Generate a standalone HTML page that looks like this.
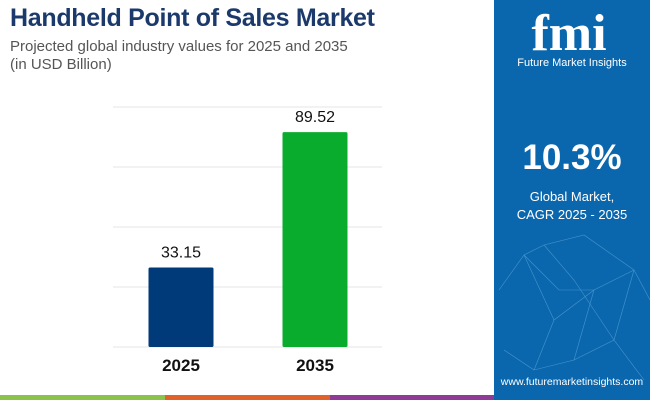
<!DOCTYPE html>
<html><head><meta charset="utf-8"><style>
body{margin:0;width:650px;height:400px;overflow:hidden;background:#fff;font-family:"Liberation Sans",sans-serif;position:relative}
.abs{position:absolute}
</style></head><body>
<div class="abs" style="left:10px;top:4px;font-size:25px;font-weight:bold;color:#1b3a6b;letter-spacing:-0.3px">Handheld Point of Sales Market</div>
<div class="abs" style="left:10px;top:38px;font-size:15px;color:#555;line-height:18px">Projected global industry values for 2025 and 2035<br>(in USD Billion)</div>
<svg class="abs" style="left:0;top:0" width="494" height="400">
<g id="g"></g>
<rect x="0" y="395" width="165" height="5" fill="#8bc34a"/>
<rect x="165" y="395" width="165" height="5" fill="#e0622a"/>
<rect x="330" y="395" width="164" height="5" fill="#8e3a96"/>
</svg>
<div class="abs" style="left:494px;top:0;width:156px;height:400px;background:#0b67ad">
<svg width="156" height="400" class="abs" style="left:0;top:0" stroke="#5fa8d8" stroke-width="0.6" fill="none" opacity="0.7">
<path d="M30 255 L60 320 L100 290 L140 270 L156 300 M30 255 L65 290 L100 290 M60 320 L40 370 L80 360 L100 290 M80 360 L120 340 L140 270 M5 290 L30 255 L50 245 L90 235 L140 270 M50 245 L80 280 L120 340 M10 350 L40 370 M120 340 L150 380"/>
</svg>
<div class="abs" style="left:20px;top:8px;width:110px;text-align:center;font-size:52px;font-weight:bold;color:#fff;line-height:52px;font-family:'Liberation Serif',serif">fmi</div>
<div class="abs" style="left:0;top:57px;width:156px;text-align:center;font-size:11px;color:#fff">Future Market Insights</div>
<div class="abs" style="left:0;top:138px;width:156px;text-align:center;font-size:35px;font-weight:bold;color:#fff">10.3%</div>
<div class="abs" style="left:0;top:188px;width:156px;text-align:center;font-size:13px;color:#fff;line-height:18px">Global Market,<br>CAGR 2025 - 2035</div>
<div class="abs" style="left:0;top:376px;width:156px;text-align:center;font-size:10.5px;color:#fff">www.futuremarketinsights.com</div>
</div>
<script>
const categories=["2025","2035"];
const values=[33.15,89.52];
const valueLabels=["33.15","89.52"];
const gridTicks=[0,25,50,75,100];
const colors=["#003a78","#0aac2e"];
const NS="http://www.w3.org/2000/svg";
const g=document.getElementById('g');
const y=v=>347-v*2.4;
const xc=i=>181+i*134;
gridTicks.forEach(t=>{const l=document.createElementNS(NS,'line');
l.setAttribute('x1',113);l.setAttribute('x2',382);l.setAttribute('y1',y(t));l.setAttribute('y2',y(t));
l.setAttribute('stroke','#e6e6e6');l.setAttribute('stroke-width','1');


g.appendChild(l);});
categories.forEach((c,i)=>{
const r=document.createElementNS(NS,'rect');
r.setAttribute('x',xc(i)-32.5);r.setAttribute('width',65);r.setAttribute('y',y(values[i]));r.setAttribute('height',347-y(values[i]));r.setAttribute('fill',colors[i]);r.setAttribute('rx',1.5);


g.appendChild(r);
const t=document.createElementNS(NS,'text');
t.setAttribute('x',xc(i));t.setAttribute('y',y(values[i])-10);t.setAttribute('text-anchor','middle');t.setAttribute('font-size','16');t.setAttribute('fill','#111');t.textContent=valueLabels[i];


g.appendChild(t);
const a=document.createElementNS(NS,'text');
a.setAttribute('x',xc(i));a.setAttribute('y',371);a.setAttribute('text-anchor','middle');a.setAttribute('font-size','17');a.setAttribute('font-weight','bold');a.setAttribute('fill','#111');a.textContent=c;


g.appendChild(a);
});
</script>
</body></html>
